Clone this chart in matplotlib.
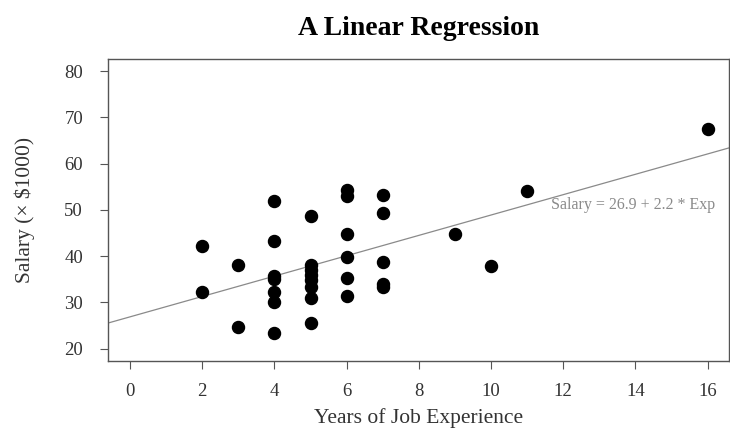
import numpy as np
import matplotlib.pyplot as plt

plt.rcParams['font.family'] = ['Liberation Serif', 'DejaVu Serif']

# years of experience and salary (x $1000)
exp = [2, 2,
       3, 3,
       4, 4, 4, 4, 4, 4, 4,
       5, 5, 5, 5, 5, 5, 5, 5,
       6, 6, 6, 6, 6, 6,
       7, 7, 7, 7, 7,
       9, 10, 11, 16]
salary = [42.2, 32.2,
          38.1, 24.7,
          52.0, 43.2, 35.8, 35.0, 32.3, 30.0, 23.3,
          48.7, 38.2, 37.0, 35.9, 34.8, 33.4, 31.0, 25.5,
          54.3, 53.0, 44.7, 39.9, 35.4, 31.5,
          53.2, 49.4, 38.8, 34.0, 33.3,
          44.7, 37.9, 54.0, 67.4]

intercept = 26.9
slope = 2.2

fig = plt.figure(figsize=(7.3, 4.28), dpi=100)
ax = fig.add_axes([0.148, 0.157, 0.851, 0.705])

ax.scatter(exp, salary, s=75, color='black', zorder=3)

xl = np.array([-0.61, 16.6])
ax.plot(xl, intercept + slope * xl, color='#8a8a8a', lw=0.9)
ax.text(11.65, 51.1, "Salary = 26.9 + 2.2 * Exp", color='#8a8a8a',
        fontsize=11.5, va='center', ha='left')

ax.set_xlim(-0.61, 16.6)
ax.set_ylim(17.4, 82.6)
ax.set_xticks(np.arange(0, 17, 2))
ax.set_yticks(np.arange(20, 81, 10))

for s in ax.spines.values():
    s.set_color('#555555')
    s.set_linewidth(1.0)
ax.tick_params(direction='out', length=6, color='#555555', labelsize=13.5, labelcolor='#333333')
ax.tick_params(axis='x', pad=10)
ax.tick_params(axis='y', pad=12)

ax.set_xlabel("Years of Job Experience", fontsize=15.5, color='#333333', labelpad=6)
ax.set_ylabel("Salary (\u00d7 $1000)", fontsize=15.5, color='#333333', labelpad=21)
ax.set_title("A Linear Regression", fontsize=20, fontweight='bold', pad=17)

fig.savefig('out.png', dpi=100)
